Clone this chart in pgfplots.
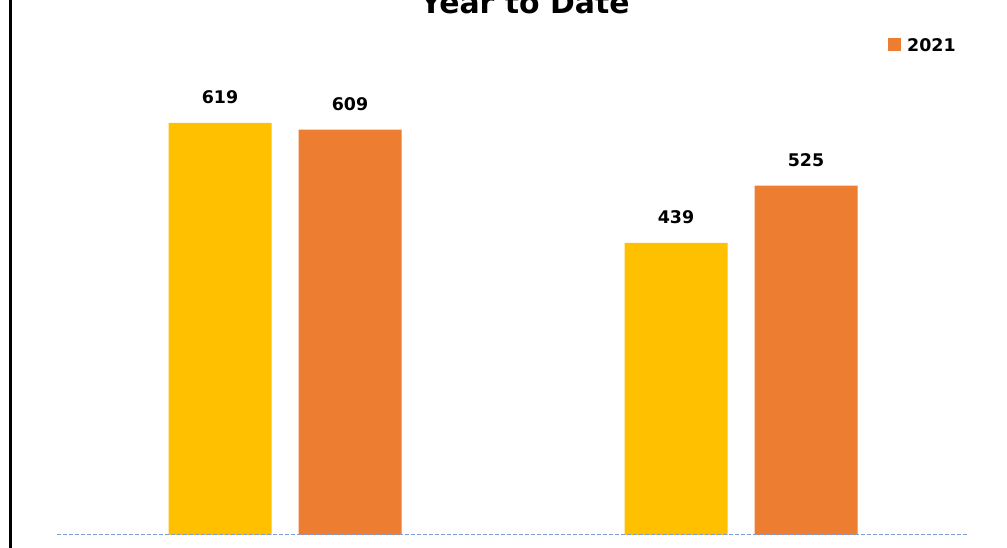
\documentclass[border=0pt]{standalone}
\usepackage{pgfplots}
\pgfplotsset{compat=1.18}
\usepackage{fontspec}
\setmainfont{DejaVu Sans}
\definecolor{gold}{HTML}{FFC000}
\definecolor{orng}{HTML}{ED7D31}
\definecolor{dashblue}{HTML}{7F9ED8}

\begin{document}
\begin{tikzpicture}
\clip (0,0) rectangle (1007bp,548bp);
\draw[line width=3bp] (10.5bp,-5bp) -- (10.5bp,560bp);
\node[anchor=base, inner sep=0pt, font=\bfseries\fontsize{30}{36}\selectfont] at (525bp,534.7bp) {Year to Date};
\begin{axis}[
  at={(57bp,13bp)}, anchor=south west,
  x=456bp, y=0.6656bp,
  xmin=-0.5, xmax=1.5, ymin=0, ymax=800,
  hide axis,
  /pgf/number format/assume math mode=true,
  ybar=27bp, bar width=103bp,
  nodes near coords,
  every node near coord/.append style={font=\bfseries\fontsize{17.5}{20}\selectfont,
    inner sep=0pt, anchor=south, yshift=19bp, text=black},
  legend image code/.code={\fill[#1] (0bp,0bp) rectangle (13bp,13bp); \path (19bp,0bp);},
  legend style={at={(0.9112,0.9057)}, anchor=south west, draw=none, fill=none,
    inner sep=0pt, row sep=38bp, nodes={inner sep=0pt, anchor=base west},
    font=\bfseries\fontsize{17.5}{20}\selectfont},
  legend cell align=left,
]
\addplot[fill=gold, draw=none] coordinates {(0,619) (1,439)};
\addplot[fill=orng, draw=none] coordinates {(0,609) (1,525)};
\legend{2020, 2021}
\draw[dashblue, line width=1.3bp, dash pattern=on 4bp off 2bp] (rel axis cs:0,0) -- (rel axis cs:1,0);
\end{axis}
\end{tikzpicture}
\end{document}
